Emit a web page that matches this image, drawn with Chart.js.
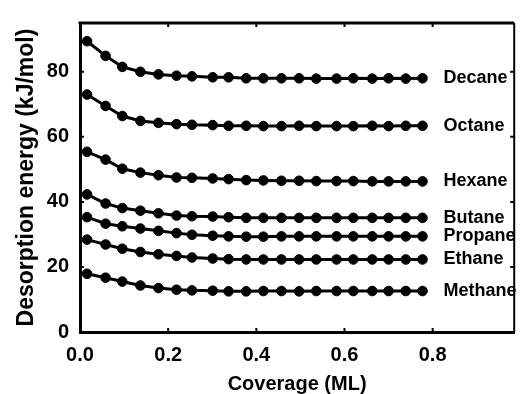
<!DOCTYPE html>
<html>
<head>
<meta charset="utf-8">
<script src="https://cdn.jsdelivr.net/npm/chart.js@4.4.1/dist/chart.umd.min.js"></script>
<style>
  html, body { margin: 0; padding: 0; background: #fff; }
  #wrap { width: 520px; height: 394px; position: relative; }
</style>
</head>
<body>
<div id="wrap"><canvas id="chart"></canvas></div>
<script>
const coverage = [0.016, 0.058, 0.096, 0.137, 0.178, 0.219, 0.254, 0.301, 0.337, 0.377,
                  0.416, 0.457, 0.497, 0.536, 0.582, 0.620, 0.663, 0.700, 0.739, 0.777];

// desorption energies (kJ/mol)
const decane  = [89.4, 84.9, 81.5, 80.0, 79.2, 78.8, 78.6, 78.3, 78.3, 78.0,
                 78.0, 78.0, 78.0, 77.9, 77.9, 78.0, 77.9, 78.0, 77.9, 78.0];
const octane  = [73.0, 69.5, 66.4, 64.9, 64.3, 63.9, 63.7, 63.6, 63.4, 63.4,
                 63.3, 63.3, 63.4, 63.3, 63.3, 63.3, 63.4, 63.3, 63.4, 63.4];
const hexane  = [55.4, 53.0, 50.2, 49.0, 48.2, 47.5, 47.4, 47.2, 47.0, 46.7,
                 46.6, 46.5, 46.5, 46.4, 46.4, 46.4, 46.3, 46.3, 46.3, 46.3];
const butane  = [42.3, 39.5, 38.1, 37.3, 36.5, 35.8, 35.6, 35.5, 35.3, 35.1,
                 35.1, 35.1, 35.1, 35.1, 35.1, 35.1, 35.1, 35.1, 35.1, 35.1];
const propane = [35.3, 33.3, 32.5, 31.8, 31.1, 30.4, 29.9, 29.6, 29.4, 29.3,
                 29.3, 29.4, 29.4, 29.4, 29.4, 29.4, 29.4, 29.4, 29.4, 29.4];
const ethane  = [28.4, 26.9, 25.6, 24.6, 23.9, 23.4, 22.9, 22.6, 22.4, 22.3,
                 22.3, 22.3, 22.3, 22.3, 22.3, 22.3, 22.3, 22.3, 22.3, 22.3];
const methane = [17.9, 16.7, 15.5, 14.3, 13.5, 13.0, 12.8, 12.7, 12.5, 12.5,
                 12.6, 12.6, 12.5, 12.6, 12.6, 12.6, 12.6, 12.6, 12.6, 12.6];

const seriesNames = ["Decane", "Octane", "Hexane", "Butane", "Propane", "Ethane", "Methane"];
const seriesValues = [decane, octane, hexane, butane, propane, ethane, methane];

const xTicks = [0.0, 0.2, 0.4, 0.6, 0.8];
const yTicks = [0, 20, 40, 60, 80];

const FONT = '"Liberation Sans", Arial, Helvetica, sans-serif';

const datasets = seriesNames.map((name, i) => ({
  label: name,
  data: coverage.map((x, j) => ({ x: x, y: seriesValues[i][j] })),
  borderColor: "#000",
  backgroundColor: "#000",
  borderWidth: 3,
  pointRadius: 4.8,
  pointBorderWidth: 1,
  pointBackgroundColor: "#000",
  pointBorderColor: "#000",
  tension: 0,
  clip: false
}));

// frame on top/right, inward tick marks, and series names at the line ends
const decorations = {
  id: "decorations",
  afterDraw(chart) {
    const { ctx, chartArea: a, scales: { x, y } } = chart;
    ctx.save();
    ctx.strokeStyle = "#000";
    ctx.lineWidth = 3;
    ctx.beginPath();
    ctx.moveTo(a.left - 1.5, a.top);
    ctx.lineTo(a.right, a.top);
    ctx.stroke();
    ctx.lineWidth = 2;
    ctx.beginPath();
    ctx.moveTo(a.right, a.top);
    ctx.lineTo(a.right, a.bottom);
    ctx.stroke();

    ctx.lineWidth = 2;
    xTicks.forEach(v => {
      const px = x.getPixelForValue(v);
      ctx.beginPath();
      ctx.moveTo(px, a.bottom); ctx.lineTo(px, a.bottom - 4);
      ctx.moveTo(px, a.top); ctx.lineTo(px, a.top + 4);
      ctx.stroke();
    });
    yTicks.forEach(v => {
      const py = y.getPixelForValue(v);
      ctx.beginPath();
      ctx.moveTo(a.left, py); ctx.lineTo(a.left + 4, py);
      ctx.moveTo(a.right, py); ctx.lineTo(a.right - 4, py);
      ctx.stroke();
    });

    ctx.fillStyle = "#000";
    ctx.font = "bold 18px " + FONT;
    ctx.textAlign = "left";
    ctx.textBaseline = "middle";
    seriesNames.forEach((name, i) => {
      const vals = seriesValues[i];
      const px = x.getPixelForValue(coverage[coverage.length - 1]) + 21;
      const py = y.getPixelForValue(vals[vals.length - 1]);
      ctx.fillText(name, px, py);
    });
    ctx.restore();
  }
};

new Chart(document.getElementById("chart"), {
  type: "line",
  data: { datasets },
  plugins: [decorations],
  options: {
    responsive: true,
    maintainAspectRatio: false,
    animation: false,
    layout: { padding: { top: 14, right: 2, left: 0, bottom: 0 } },
    plugins: { legend: { display: false }, tooltip: { enabled: false } },
    scales: {
      x: {
        type: "linear",
        min: 0,
        max: 0.985,
        afterBuildTicks: s => { s.ticks = xTicks.map(v => ({ value: v })); },
        afterFit: s => { s.height = 62; },
        grid: { display: false, drawTicks: false },
        border: { display: true, width: 3, color: "#000" },
        ticks: {
          padding: 11,
          color: "#000",
          maxRotation: 0,
          font: { family: FONT, size: 20, weight: "bold" },
          callback: v => Number(v).toFixed(1)
        },
        title: {
          display: true,
          text: "Coverage (ML)",
          color: "#000",
          font: { family: FONT, size: 20, weight: "bold", lineHeight: 1 },
          padding: { top: 0, bottom: 0 }
        }
      },
      y: {
        type: "linear",
        min: 0,
        max: 95,
        afterBuildTicks: s => { s.ticks = yTicks.map(v => ({ value: v })); },
        afterFit: s => { s.width = 80; },
        grid: { display: false, drawTicks: false },
        border: { display: true, width: 3, color: "#000" },
        ticks: {
          padding: 11,
          color: "#000",
          font: { family: FONT, size: 20, weight: "bold" }
        },
        title: {
          display: true,
          text: "Desorption energy (kJ/mol)",
          color: "#000",
          font: { family: FONT, size: 23, weight: "bold", lineHeight: 1 },
          padding: { top: 15, bottom: 0 }
        }
      }
    }
  }
});
</script>
</body>
</html>
